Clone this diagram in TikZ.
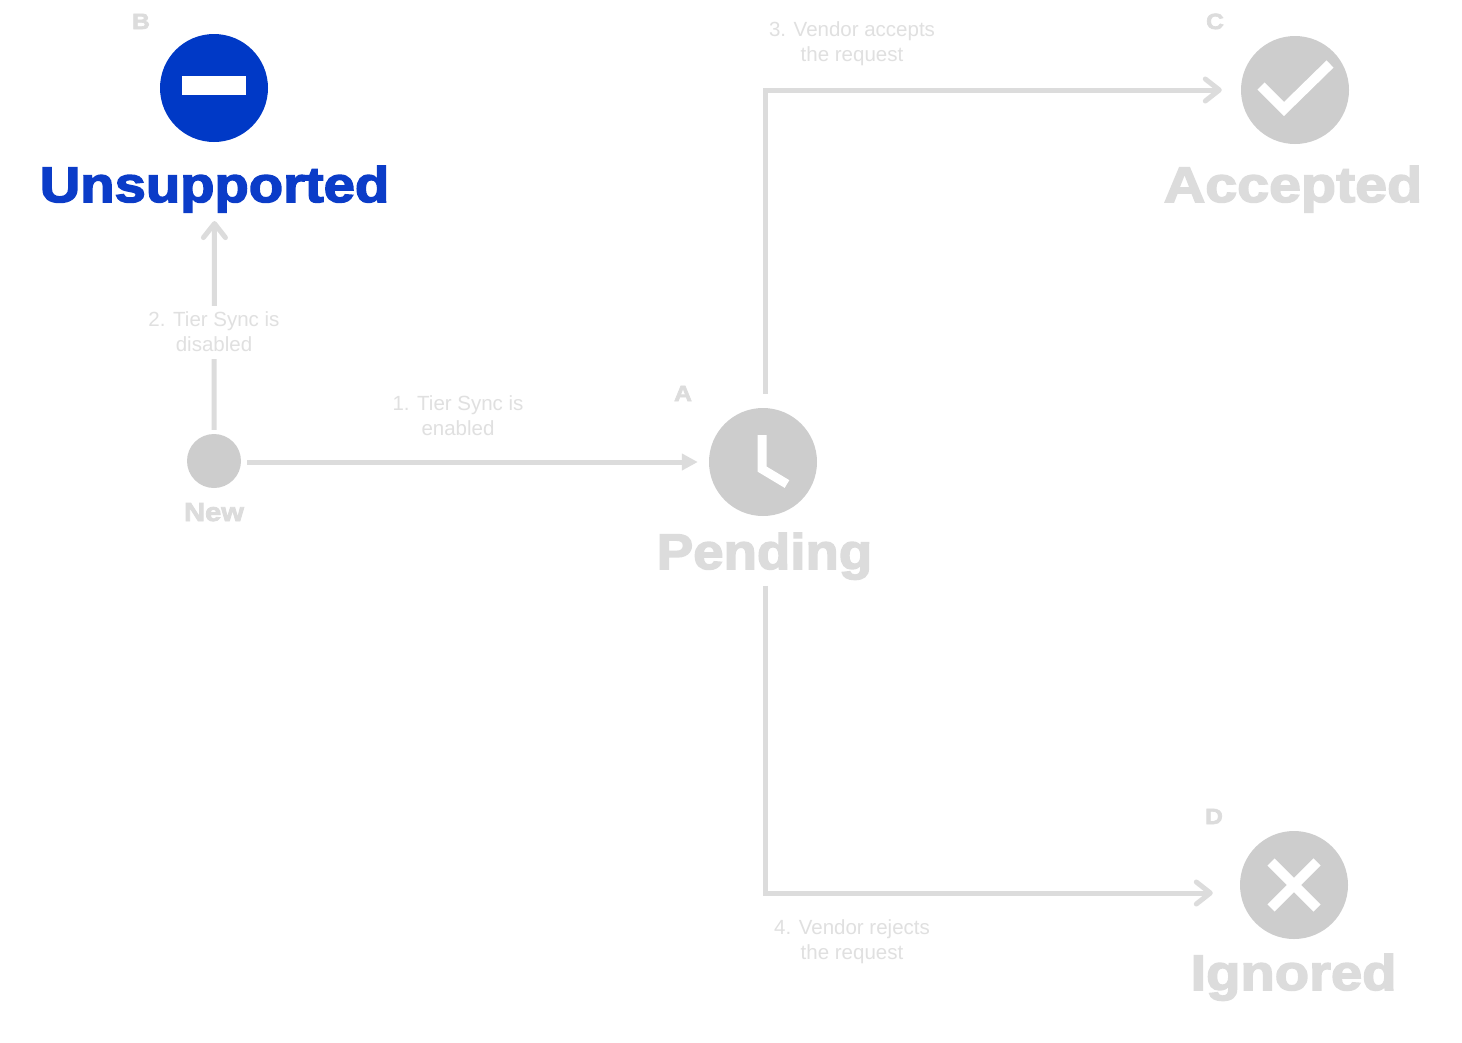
\documentclass[tikz,border=0pt]{standalone}
\usepackage{fontspec}
\setmainfont{Liberation Sans}
\newfontfamily\heavyfont[FakeBold=3,FakeStretch=1.12]{Liberation Sans Bold}
\usetikzlibrary{positioning}
\usetikzlibrary{arrows.meta}
\definecolor{blockblue}{HTML}{0039C6}
\definecolor{titleblue}{HTML}{0B3CC8}
\definecolor{icongrey}{HTML}{CDCDCD}
\definecolor{fadegrey}{HTML}{DCDCDC}
\definecolor{notegrey}{HTML}{E0E0E0}
\tikzset{
  state/.style={circle, fill=icongrey, inner sep=0pt, minimum size=108pt},
  title/.style={anchor=base, inner sep=0pt, text=fadegrey, transform shape,
    font=\heavyfont\fontsize{50}{50}\selectfont},
  letter/.style={anchor=base, inner sep=0pt, text=fadegrey,
    font=\heavyfont\fontsize{22}{22}\selectfont},
  note/.style={align=center, inner sep=0pt, text=notegrey,
    font=\fontsize{20.5}{25}\selectfont},
  flow/.style={draw=fadegrey, line width=5pt},
  barb/.style={flow, -{Straight Barb[length=14pt, width=22pt, round]}},
  mark stroke/.style={draw=white, line width=10pt}
}

\begin{document}
\begin{tikzpicture}[x=1pt, y=-1pt]
\fill[white] (0,0) rectangle (1462,1042);
\useasboundingbox (0,0) rectangle (1462,1042);

% --- State icons ---
\node[state, minimum size=54pt] (new) at (214,461) {};
\node[state] (pending) at (763,462) {};
\node[state, fill=blockblue] (unsupported) at (214,88) {};
\node[state] (accepted) at (1295,90) {};
\node[state] (ignored) at (1294,885) {};

% --- Marks inside the icons ---
\fill[white] (182,76) rectangle (246,95);
\draw[mark stroke, line width=9pt] (762,435) -- (762,469) -- (787,484);
\draw[mark stroke] (1261,86) -- (1284,109) -- (1330,64);
\draw[mark stroke] (1271,862) -- (1317,908);
\draw[mark stroke] (1317,862) -- (1271,908);

% --- State names ---
\node[title, text=titleblue, xscale=1.003] (unsupportedName) at (214.5,202) {Unsupported};
\node[title, xscale=.975] (pendingName) at (764.5,569) {Pending};
\node[title, xscale=1.025] (acceptedName) at (1293,202) {Accepted};
\node[title, xscale=1.003] (ignoredName) at (1293.5,990) {Ignored};
\node[title, font=\heavyfont\fontsize{26}{26}\selectfont] (newName) at (214,521) {New};

% --- Corner letters ---
\node[letter] (letterB) at (141,29) {B};
\node[letter] (letterA) at (683,401) {A};
\node[letter] (letterC) at (1215,29) {C};
\node[letter] (letterD) at (1214,824) {D};

% --- Connectors ---
\draw[flow, -{Triangle[length=16pt, width=16pt]}, shorten <=6pt, shorten >=11pt]
  ([yshift=-1pt]new.east) -- (pending.west);
\draw[barb, shorten <=4pt, shorten >=8.5pt]
  (new.north) -- (unsupportedName.south);
\draw[barb, shorten <=14pt, shorten >=19pt]
  ([xshift=2pt]pending.north) |- (accepted.west);
\draw[barb, shorten <=6pt, shorten >=27pt]
  ([xshift=1pt]pendingName.south) |- ([yshift=-8pt]ignored.west);

% --- Connector notes ---
\node[note, fill=white, minimum height=53pt, minimum width=136pt] (noteTwo) at (214,332)
  {2. Tier Sync is\\disabled};
\node[note] (noteOne) at (458,416) {1. Tier Sync is\\enabled};
\node[note] (noteThree) at (852,44) {3. Vendor accepts\\the request};
\node[note] (noteFour) at (852,942) {4. Vendor rejects\\the request};

\end{tikzpicture}
\end{document}
